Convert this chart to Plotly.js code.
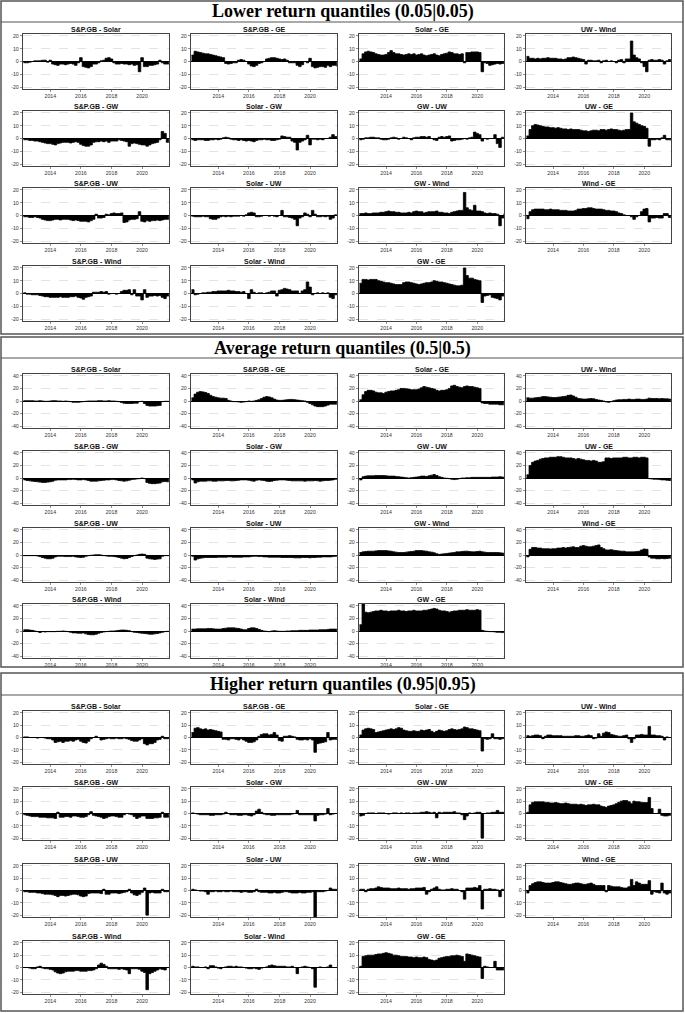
<!DOCTYPE html>
<html>
<head>
<meta charset="utf-8">
<script src="https://cdn.plot.ly/plotly-3.0.1.min.js"></script>
<style>
	html, body { margin: 0; padding: 0; background: #fff; }
	#chart { width: 685px; height: 1013px; }
</style>
</head>
<body>
<div id="chart"></div>
<script>
// sampling dates, every two months
const dates = [
	"2012-04", "2012-06", "2012-08", "2012-10", "2012-12",
	"2013-02", "2013-04", "2013-06", "2013-08", "2013-10", "2013-12",
	"2014-02", "2014-04", "2014-06", "2014-08", "2014-10", "2014-12",
	"2015-02", "2015-04", "2015-06", "2015-08", "2015-10", "2015-12",
	"2016-02", "2016-04", "2016-06", "2016-08", "2016-10", "2016-12",
	"2017-02", "2017-04", "2017-06", "2017-08", "2017-10", "2017-12",
	"2018-02", "2018-04", "2018-06", "2018-08", "2018-10", "2018-12",
	"2019-02", "2019-04", "2019-06", "2019-08", "2019-10", "2019-12",
	"2020-02", "2020-04", "2020-06", "2020-08", "2020-10", "2020-12",
	"2021-02", "2021-04", "2021-06", "2021-08", "2021-10"
];

const pairs = [
	"S&P.GB - Solar", "S&P.GB - GE", "Solar - GE", "UW - Wind",
	"S&P.GB - GW", "Solar - GW", "GW - UW", "UW - GE",
	"S&P.GB - UW", "Solar - UW", "GW - Wind", "Wind - GE",
	"S&P.GB - Wind", "Solar - Wind", "GW - GE"
];

const yearTicks = ["2014-01-01", "2016-01-01", "2018-01-01", "2020-01-01"];
const yearLabels = ["2014", "2016", "2018", "2020"];

// ---- lower return quantiles (0.05|0.05)
const loSpSolar = [-1, -1, -0.5, 0, 0.5,
	0.5, 0.5, 1, 1, -0.5, 1,
	-2, -2.5, -3, -2, -2, -2.5,
	-2, -1.5, -2, -3, -1, 3,
	-4, -4.5, -5, -4, -2, -2,
	-1, 0.5, 1, 2.5, 3, 2,
	-1, -2, -2, -1.5, -2, -2,
	-2.5, -2, -3, -2.5, -8, 3,
	-4, -4, -3, -3, -2.5, -2,
	1, -1, -2, -2, -2];
const loSpGe = [5, 8, 7.5, 7, 6.5,
	6, 6, 5.5, 5, 4.5, 4,
	3.5, 3, -1.5, -2, -1.5, -1,
	-1, 1, 1.5, 1, 0, -2,
	-3.5, -4, -3, -1.5, -1, 0,
	2, 2.5, 3, 3, 2.5, 2,
	1.5, 2, 1, -1, -1, -1,
	-3, -4, -2.5, 0, -1, 2.5,
	-4, -5, -4.5, -4, -4, -4.5,
	-3, -4, -3, -3, -4];
const loSolarGe = [2, 6, 7.5, 8, 7.5,
	7, 6, 5.5, 5, 5, 5.5,
	7, 8.5, 7, 6, 6, 5.5,
	5, 5.5, 6, 5.5, 6, 5,
	5.5, 6, 5, 4.5, 5, 5.5,
	6, 5, 4.5, 5.5, 6, 6.5,
	7.5, 7, 6, 6, 5.5, 6,
	-1, 7, 7, 7.5, 7.5, 7.5,
	7, -8, -1, -1.5, -3, -2.5,
	-2, -1.5, -2, -1.5, -2];
const loUwWind = [4, 2.5, 2.5, 2, 2.5,
	2, 2.5, 2.5, 3, 2.5, 2.5,
	2.5, 2, 2, 1.5, 2, 3,
	3, 3.5, 3, 2.5, 2, 1.5,
	-2, 1, 1, 0.5, 0.5, 1,
	-1, 0.5, 1, 0, 0.5, 0,
	-1, 1, 1.5, -1, 2, 2,
	16, 5, 3, 2, -1, -4,
	-8, 1, 1.5, 1, 1, 1.5,
	1, -2, 0.5, 1.5, 1.5];
const loSpGw = [-1, -1, -1.5, -1.5, -2,
	-2, -2.5, -3, -3.5, -4, -4,
	-4.5, -5, -4, -3.5, -3, -3,
	-3, -3.5, -3, -2.5, -3, -4.5,
	-5.5, -6, -6, -5, -3, -2.5,
	-2.5, -2, -2.5, -2, -3, -2,
	-2, -2, -1, -1.5, -2, -2.5,
	-6, -4, -3.5, -4, -4.5, -5,
	-5, -6, -5, -4, -3.5, -3,
	-1, 5.5, 4, -3, -3];
const loSolarGw = [-1, -1.5, -1, -1, -1,
	-1.5, -1.5, -1, -1, -0.5, -1,
	-0.5, 0.5, 1, 0.5, -0.5, -1,
	-1, -1.5, -1, -1.5, -2, -1.5,
	-2, -2.5, -1.5, -1, -1, -0.5,
	-1, -1, -1.5, -1.5, -1, -0.5,
	2, 1.5, 1, 1, -2, -3,
	-9, -3, -2, -1, 2.5, -5,
	-0.5, -0.5, -1, -0.5, -1, 0,
	0, 1, 3, 1.5, 0.5];
const loGwUw = [-1, -0.5, 0.5, 0.5, 1,
	1, 0.5, 0.5, -0.5, -1, -1,
	-0.5, 0.5, 1, 0.5, -0.5, 0,
	1, 0.5, 0, -1, 0.5, 1,
	1, 1.5, 1.5, 1, 1.5, 0,
	-1, -1.5, 1, 1.5, 1, 1.5,
	2, -2, -1.5, -1, -1, -0.5,
	0, -0.5, 0.5, 1, 5, 4,
	3, -2, 0, -0.5, 0, 0,
	3, -4, -7, 1, 1];
const loUwGe = [2, 7, 10, 11, 10.5,
	10, 9.5, 9, 9, 8.5, 8.5,
	8, 8.5, 8, 7.5, 7.5, 7,
	7.5, 7, 7, 7, 6.5, 6,
	6, 5.5, 6, 6.5, 6.5, 6,
	7, 7, 6.5, 7, 7.5, 7,
	7, 6.5, 6, 6.5, 7, 7,
	20, 13, 12, 11, 10, 9.5,
	8, -6, -1, -1, -0.5, -1,
	0.5, 2.5, -1, -1, -1.5];
const loSpUw = [-1, -1, -1.5, -1.5, -1,
	-1.5, -2, -3, -3.5, -4, -4,
	-3.5, -3, -3, -3.5, -3, -3,
	-3, -3.5, -4, -3.5, -4, -4.5,
	-4.5, -4.5, -5, -4, -3, 1,
	-2, -2, -1.5, 1, 0.5, 1.5,
	2, 1.5, 1.5, 2, -5.5, -5,
	-3.5, -3, -3, -2.5, 3, -4.5,
	-5, -4, -4.5, -4, -4, -3.5,
	-4, -3.5, -3, -3, -3];
const loSolarUw = [-0.5, -1, -1, -1, -0.5,
	-1, -1, -2.5, -3, -3, -2,
	-1, -0.5, -1, -0.5, -1, -0.5,
	-0.5, -0.5, 0, -0.5, 0.5, 2,
	2.5, 2, -1, -1, -0.5, 0,
	0, -0.5, 0, -0.5, -1, 0,
	4, -1, -1, -1.5, -2, -3,
	-8, -2, -1, 2, 1, -1,
	4, 1, -1, -1, -0.5, -1,
	-0.5, -3, -2, 0.5, 0];
const loGwWind = [1.5, 1.5, 2, 1.5, 1.5,
	2, 2, 2, 2.5, 2.5, 3,
	3.5, 3, 3, 2.5, 2.5, 2,
	2, 2, 2.5, 2, 3, 3.5,
	3, 3, 2, 2.5, 3, 3,
	3, 3.5, 2.5, 2.5, 2, 2,
	1.5, 2.5, 3, 3.5, 4, 4,
	18, 6, 4.5, 4, 8, 3.5,
	3.5, 3, 2, 1.5, 2, 1.5,
	1.5, 1, -8, -2, 1.5];
const loWindGe = [-2.5, 3, 4.5, 5, 5,
	5, 5, 4.5, 4.5, 5, 4.5,
	4.5, 4.5, 4, 4, 4, 3.5,
	3.5, 3.5, 4, 5, 5, 5.5,
	5.5, 6, 6, 5.5, 5, 5,
	5, 4.5, 4, 4, 3.5, 3.5,
	3, 2, 1.5, 0.5, 0, 0,
	-1, -3, -1, 0, 3, 5,
	5.5, -5, -2, -2, -1.5, -2,
	-2, 1.5, 1.5, -1.5, -2];
const loSpWind = [0.5, -0.5, -0.5, -1, -1,
	-1, -1.5, -2, -2.5, -2.5, -3,
	-3, -3, -3, -2.5, -3, -3,
	-3, -2.5, -2.5, -2, -3, -3.5,
	-4.5, -3, -2.5, -2, 1, 1,
	1, 1.5, 1, 1.5, -0.5, 0,
	0, -0.5, 0, 1.5, 2.5, 2.5,
	3, -1, 3, -2, -2, -5,
	3, -3, -2, -2, -1.5, -2,
	-1.5, -3, -4, -2, -2];
const loSolarWind = [3, -1, -0.5, 0, 0.5,
	0.5, 1, 1, 1.5, 1.5, 2,
	2, 2, 2, 2.5, 2, 2,
	1.5, 1.5, 1, 1.5, 0, -4,
	3, 1, 0, 0.5, 0.5, 0,
	0.5, 1, 2, 2, -2, 2.5,
	3, 4, 3.5, 3, 2, 2,
	2, 0, 2, 3, 9, 5,
	-1, 0, 0.5, 0, 0.5, 0,
	0.5, -3, -4, -1, 0];
const loGwGe = [8, 11, 11, 10.5, 11,
	11, 11, 10, 9.5, 9, 8.5,
	8.5, 8, 7.5, 7, 7, 7,
	8.5, 9, 9, 8.5, 8, 7.5,
	7, 7.5, 8, 8.5, 8.5, 9,
	10, 9.5, 9, 9, 8.5, 8,
	7.5, 7, 6.5, 6, 6, 6.5,
	20, 14, 12, 12, 11, 10.5,
	10, -7, -2, -1.5, -1, -3,
	-3.5, -4, -5, -2, -1];

// ---- average return quantiles (0.5|0.5)
const avSpSolar = [0.5, 0.5, 0.5, 0.5, 0,
	0, 0.5, 0, -0.5, -0.5, 0,
	0.5, 0.5, 0, 0, -0.5, 0,
	-0.5, -1, -2, -2, -2, -1.5,
	-1, -0.5, 0, 0, 0, 0,
	0.5, 0.5, 0, 0, 0.5, 0,
	0, -0.5, -1, -2.5, -3.5, -4,
	-4, -4, -3.5, -3.5, -1, -0.5,
	-4, -7, -8, -8, -8, -7.5,
	-7, -1, -0.5, -0.5, -0.5];
const avSpGe = [5, 11, 14, 15, 14.5,
	13.5, 12, 9, 7, 6, 5,
	4.5, 4.5, 4, 1, 0, -1,
	-1, -1.5, -2, -1.5, -1, 0,
	-0.5, 0, 1, 2, 4, 6,
	7, 6.5, 5, 3, 1.5, 1,
	1, 1.5, 2, 2.5, 2.5, 2,
	1.5, 1, 0.5, 0, -2, -4,
	-6, -8, -9, -9, -9, -8,
	-6.5, -5, -5, -5, -5];
const avSolarGe = [2, 10, 15, 17, 17,
	16, 14, 13, 13, 12, 14,
	15, 16, 16, 17, 18, 20,
	20, 19.5, 19, 18, 18, 18,
	19, 21, 23, 22, 21, 20,
	19, 17, 16, 17, 17, 18,
	20, 24, 25, 23, 22, 21,
	23, 24, 23, 23, 22, 21,
	20, -3, -4, -4, -5, -5,
	-5, -5, -6, -6, -6];
const avUwWind = [5, 4.5, 4.5, 5, 5.5,
	6, 7, 7, 6.5, 6, 5.5,
	5.5, 6, 6.5, 7, 7.5, 9,
	9.5, 8, 6, 4, 3.5, 3,
	3, 3.5, 4, 3.5, 2.5, 1.5,
	1, 0, -1.5, -2, -1, 0.5,
	1.5, 2, 2, 2.5, 2.5, 3,
	2.5, 2.5, 3, 3, 2.5, 2.5,
	3, 4.5, 4, 4, 4, 3.5,
	4, 3.5, 3.5, 3, 3];
const avSpGw = [-3, -4, -4.5, -5, -5.5,
	-6, -6.5, -7, -7, -6.5, -6,
	-5, -3.5, -3, -3, -3, -3,
	-2.5, -2.5, -2, -2.5, -3, -3,
	-2.5, -3, -4, -5, -5, -5,
	-4.5, -4, -3.5, -3, -3, -2.5,
	-2.5, -3, -4, -4.5, -5, -4.5,
	-3.5, -2.5, -2, -1.5, -1, 0,
	-1, -7, -8.5, -9, -9, -8.5,
	-8, -6, -5.5, -6, -6];
const avSolarGw = [-3, -8, -6, -5, -5,
	-5, -4.5, -4.5, -5, -5, -4.5,
	-4.5, -4.5, -4, -4, -4.5, -4.5,
	-4, -3.5, -3, -3, -3, -3.5,
	-4.5, -5, -3.5, -3, -3.5, -4,
	-5, -5.5, -5, -4, -3.5, -3,
	-3, -3, -3.5, -4, -4.5, -4.5,
	-4.5, -4.5, -4.5, -5, -4.5, -4.5,
	-4.5, -4, -4.5, -5, -4.5, -4,
	-4, -3.5, -3, -2, -1.5];
const avGwUw = [-3, 2, 3, 3.5, 3.5,
	3.5, 4, 4, 4, 4, 3.5,
	3, 3, 3, 2.5, 2, 1.5,
	1, 0.5, 0, 0.5, 1, 1.5,
	2, 3, 3, 2.5, 3.5, 4.5,
	5.5, 4, 2, 1, 0, -0.5,
	-1, -2, -2.5, -2, -1, 0,
	0, 0.5, 0.5, 1, 1, 1,
	1, 1, 1, 1, 1, 1.5,
	1.5, 1.5, 2, 1.5, 1.5];
const avUwGe = [5, 20, 25, 27, 28,
	30, 31, 32, 32, 33, 33,
	33, 34, 34, 33, 32, 32,
	32, 31, 30, 31, 30, 29,
	28, 28, 27, 28, 27, 25,
	25, 26, 32, 32, 31, 32,
	32, 32, 32, 33, 33, 32,
	32, 33, 33, 32, 33, 33,
	32, -1, -1.5, -2, -2, -2.5,
	-3, -3, -3.5, -4, -4];
const avSpUw = [-1, -1, -1, -1, -1,
	-1.5, -2.5, -4, -5, -6, -6,
	-5, -3, -2, -2, -2, -2.5,
	-2.5, -2.5, -2, -3, -3.5, -4,
	-3.5, -2, -1, -0.5, 0, 0.5,
	0.5, 0, -1, -1.5, -2, -2,
	-2.5, -3, -4, -5, -6, -5.5,
	-4, -2.5, -1, 0, 1, 1.5,
	1, -5, -6, -6.5, -7, -6.5,
	-6, -2, -1, -1, -1];
const avSolarUw = [-2, -8, -6, -5, -4.5,
	-4, -4, -4, -4, -4, -3.5,
	-3.5, -3.5, -3.5, -3, -3, -3.5,
	-3.5, -3.5, -3.5, -3, -3, -3,
	-2.5, -2, -2, -2.5, -2.5, -3,
	-3, -3.5, -3.5, -3.5, -3.5, -3.5,
	-4, -4, -4, -4, -4, -4.5,
	-4.5, -4.5, -4, -4, -4, -4.5,
	-4, -4, -3.5, -3.5, -3, -3,
	-3, -3, -2.5, -2, -2];
const avGwWind = [4, 5, 5.5, 6, 6,
	6, 6.5, 7, 7, 7, 7,
	6.5, 6, 5, 4.5, 4, 4,
	4, 4.5, 5, 5.5, 6, 7,
	7, 7, 6.5, 6, 5, 4.5,
	3.5, 2, 1, 1.5, 2, 2.5,
	3, 3.5, 4, 5, 5, 5.5,
	6, 6, 5.5, 5, 5, 5.5,
	6, 5, 4.5, 4, 4, 4,
	4, 4, 3.5, 3, 2];
const avWindGe = [-3, 9, 12, 12, 11,
	11, 10, 10, 10, 9.5, 10,
	10, 11, 11, 12, 11, 12,
	12.5, 13, 12, 12, 14, 15,
	14, 13, 13, 14, 15, 16,
	12, 10, 8, 8, 8.5, 7.5,
	7, 6.5, 6, 6, 5, 5,
	5, 5, 5.5, 6, 8, 9.5,
	9, -3, -5, -5, -6, -6,
	-5.5, -6, -5.5, -5, -5];
const avSpWind = [2, 2, 1.5, 1, 0,
	-1, -2.5, -1, -1.5, -1, -1,
	-1, -1, -0.5, -0.5, 0, -0.5,
	-1, -2, -3, -3, -3.5, -3.5,
	-3, -4.5, -5.5, -6, -6, -5,
	-3.5, -2.5, -1.5, -1, -0.5, 0,
	0, 0.5, 1, 1.5, 1.5, 1,
	0.5, -1, -2, -2.5, -3, -3.5,
	-4, -4.5, -5, -5, -4.5, -4,
	-3, -2, -1, -0.5, -0.5];
const avSolarWind = [3, 3, 3.5, 3.5, 3.5,
	3.5, 4, 4, 3.5, 3, 3,
	3, 4, 4.5, 5, 5, 5,
	4.5, 4, 3, 2, 2, 4,
	5, 5, 4, 2.5, 1, 0,
	-0.5, -1, 0, 0.5, 0, -0.5,
	-0.5, -0.5, 0, 0, 0.5, 0.5,
	0.5, 1, 1, 1, 1, 1.5,
	1.5, 1.5, 1.5, 2, 2, 2,
	2.5, 3, 3, 3, 3];
const avGwGe = [10, 45, 30, 29, 30,
	31, 32, 32, 33, 32, 32,
	31, 32, 32, 32, 33, 32,
	32, 31, 32, 32, 33, 32,
	32, 32, 33, 33, 34, 35,
	36, 35, 33, 32, 32, 31,
	30, 31, 32, 32, 33, 33,
	33, 34, 33, 33, 33, 34,
	33, 1, 0, -0.5, -1, -1,
	-1.5, -2, -2, -2.5, -3];

// ---- higher return quantiles (0.95|0.95)
const hiSpSolar = [0.5, 0.5, 0, 0, 0,
	-0.5, 0, 0, -0.5, -1, -1,
	-2, -4, -3.5, -3, -4, -3,
	-3, -2.5, -3, -2, -1.5, -3,
	-4, -4.5, -3, -1, 0, 1,
	0, -2, -1.5, -1, -0.5, -1,
	-1, -0.5, -1, -1, -0.5, -1,
	-1.5, -2.5, -3, -3, -2, -1,
	-5, -6, -5, -5, -4, -2,
	-1.5, 1, -1, -1, -1];
const hiSpGe = [4, 7.5, 8, 7, 6.5,
	7, 6, 6.5, 6, 5.5, 5,
	4.5, -1.5, -1.5, -2, -1, -1,
	-1.5, -2, -1, -2, -3, -4,
	-4, -3.5, -2, 1, 2.5, 3,
	3, 2, 2.5, 4, 2, -2.5,
	-3, 1, 1, 1.5, 1, 0.5,
	-1.5, -2, -2, -1.5, -2, -1,
	-2, -12, -5, -4.5, -4, -3.5,
	4, -2, -1.5, -1.5, -2];
const hiSolarGe = [2, 6, 7, 7.5, 7,
	6.5, 4, 4.5, 5, 5.5, 6,
	6.5, 7, 6.5, 7, 8, 7.5,
	6, 5.5, 5, 5, 5.5, 5,
	5, 6, 5.5, 6, 6.5, 5,
	4, 5, 6, 5.5, 5, 5.5,
	6.5, 7, 6.5, 6, 6.5, 7,
	8.5, 8, 7, 7, 6.5, 6,
	5.5, -11, -1, -1.5, -1, 3,
	-1, -1, -1.5, -1, -1];
const hiUwWind = [1.5, 1, 1.5, 2, 2,
	1.5, -1, 1, 2, 2, 1.5,
	1.5, 1.5, 1.5, 1, 1, 1,
	1, 1, 1.5, 1.5, 1, 1,
	1.5, 2, 1.5, -1, -0.5, 3,
	1, 3.5, 4.5, 4, 2.5, 2,
	1.5, 1, 1, 1.5, 2, -1,
	-4, -1, 2, 2, 2.5, 2,
	2, 9, 2, 2, 1.5, 1.5,
	1, -2, 0.5, 0, 0];
const hiSpGw = [-1, -1.5, -2, -2.5, -2.5,
	-2.5, -3, -3, -3, -3.5, -3.5,
	-3.5, -4, 1, -3, -3, -2.5,
	-2.5, -3, -2, -2, -2.5, -3,
	-3, -2.5, -1, 1.5, -1.5, -2,
	-2.5, -3, -4, -3.5, -2.5, -2,
	-2, -2.5, -3, -3, -1, 0,
	-0.5, -1, -2.5, -4, -3, -2,
	-2, -4, -4, -4, -3.5, -3.5,
	-3, 1, -3, -3, -3];
const hiSolarGw = [0.5, 0, -0.5, -1, -1,
	-1, -1, -1.5, -1.5, -1, -1,
	-1, -0.5, 1, 0, -1, -1,
	-1, -1.5, -1.5, -1, -1, -1.5,
	-2, -1, 2, 3.5, 1, -0.5,
	-1, -1, -1.5, -1.5, -1, -1,
	-1, -1, -1, -1, -0.5, 0,
	2.5, -1, -1, -1, -1, -1,
	-1, -6, -1.5, -1, -1, -0.5,
	4, -1, -0.5, 0, 0];
const hiGwUw = [-2, -1.5, 0, 0.5, 0.5,
	0.5, 0, 0.5, 0.5, 0.5, 0,
	-0.5, 0, 0.5, 0.5, 0, 0.5,
	0, 0.5, 0.5, 0, 0.5, 0.5,
	0.5, 1, 1, 1.5, 1, 0.5,
	1, -3.5, 1, 0.5, 1, 1,
	1, 1, 1.5, 0.5, 0.5, -1,
	-5, -2, 0.5, 0, 0.5, 1,
	1, -20, 0, 0.5, 0.5, 1,
	1, 2.5, 1, 1, 0.5];
const hiUwGe = [1, 7, 9, 9.5, 9.5,
	9.5, 9.5, 9, 9, 8.5, 8.5,
	9, 8.5, 8, 8, 8.5, 8,
	7.5, 7.5, 7.5, 7, 7.5, 7,
	6.5, 7, 7, 7.5, 7, 7,
	6, 5.5, 5, 6, 6.5, 7,
	8, 9, 10, 10.5, 10.5, 9.5,
	8, 10, 9.5, 9.5, 9, 9,
	9, 13, 4, 0, 0, 3.5,
	-1.5, -2, -2, -1.5, -1.5];
const hiSpUw = [-1, -1, -1.5, -1.5, -1.5,
	-2, -2, -2.5, -3, -3, -3,
	-3.5, -4, -5, -4, -4, -4.5,
	-4, -3.5, -3, -3, -3.5, -4.5,
	-5, -4.5, -2.5, -2, -2, -2,
	-2, -2.5, 1, -3, -3, -2,
	-2, -2, -2.5, -2, -1.5, -1,
	1, -2, -3.5, -4, -3, -1.5,
	2, -20, -2, -1.5, -2, -2,
	-2, 1, -1, -1, -1];
const hiSolarUw = [1, 0.5, 0, -0.5, -0.5,
	-1, -3, -1, -1, -0.5, -1,
	-1, -0.5, -1, -1, -0.5, -1,
	-1, -1, -1.5, -1, -1, -1.5,
	-1.5, -1, 1, -1, -1.5, -1.5,
	-1.5, -2, -2, -1.5, -2, -2,
	-1.5, -1, -1, -1.5, -2, -2,
	-2, -1.5, -2, -2, -1.5, -1.5,
	-1, -22, -1, -1, -1, -0.5,
	0, 2, 1, 1, 0.5];
const hiGwWind = [1, 1, -1, 1, 1.5,
	1.5, 2, 3, 2.5, 2, 2,
	2, 1.5, 1.5, 1.5, 2, 1.5,
	1.5, 1.5, 1, 1.5, 1.5, 2,
	2, 2, 2.5, -3, -1, 1,
	2, 3, 1, 0.5, 0.5, 1,
	1, 1.5, 1, 1, 0, -1,
	-7, 2, 2, 2, 2.5, 2,
	4, -15, 1, 1, 1.5, 1,
	1, 0.5, -5, 1, 1];
const hiWindGe = [-2, 4, 5.5, 6.5, 7,
	7, 6.5, 6, 6, 6, 6.5,
	7, 7, 6.5, 6, 5.5, 5,
	5, 5.5, 6, 6, 5.5, 5,
	5, 5.5, 6, 5, 4, 4,
	4, 4, -1, 4, 3.5, 3,
	3, 3, 2.5, 2, 2, 3,
	9, 4, 7, 6, 5, 5,
	5, 8, -3, -1, -1.5, -2,
	6, -2, -3, -2, -1];
const hiSpWind = [0, 0, -0.5, -1, -1,
	0.5, 1, -0.5, -1, -1, -1.5,
	-2, -3.5, -4.5, -5, -4.5, -3.5,
	-3, -3, -3, -2.5, -2.5, -3,
	-3, -3, -2.5, -2.5, -2, -1,
	2, 3.5, 2.5, 1, -1, -1,
	-1, -1, -1.5, -1, -1.5, -2,
	-5, -1, -1, -1, -1.5, -3,
	-4, -18, -5, -4, -3, -2,
	-1, -1.5, -2, 0, 0];
const hiSolarWind = [1, 0.5, 0.5, 0, 0,
	0.5, -1, 1.5, 1.5, 0.5, -0.5,
	-1, 0, 0.5, 1, 1, 0.5,
	1, 0.5, 0.5, 0, -0.5, -1,
	-1, -0.5, -1, -1.5, -0.5, 0,
	0.5, 1.5, 2, 1.5, 1, 1,
	1, 1, 0.5, 0.5, 1, 0,
	-5, 0, 0.5, 1, 0.5, 0,
	-1, -16, 0, 0.5, 0, 0,
	0.5, 2, 0, 0, 0.5];
const hiGwGe = [1, 9, 9.5, 10, 10,
	10, 10.5, 11, 11, 11.5, 12,
	11.5, 11, 10, 10, 9.5, 9,
	9, 9, 8.5, 8.5, 8, 8.5,
	8, 8, 8.5, 8, 6.5, 6,
	5.5, 6, 7.5, 8, 8.5, 9,
	9, 9.5, 9.5, 10, 9.5, 9,
	5, 11, 10.5, 10, 9.5, 9,
	8.5, -9, 1, 0.5, 0, 0,
	5, -2, -2, -2, -1.5];

const lower = [loSpSolar, loSpGe, loSolarGe, loUwWind, loSpGw, loSolarGw, loGwUw, loUwGe,
	loSpUw, loSolarUw, loGwWind, loWindGe, loSpWind, loSolarWind, loGwGe];
const average = [avSpSolar, avSpGe, avSolarGe, avUwWind, avSpGw, avSolarGw, avGwUw, avUwGe,
	avSpUw, avSolarUw, avGwWind, avWindGe, avSpWind, avSolarWind, avGwGe];
const higher = [hiSpSolar, hiSpGe, hiSolarGe, hiUwWind, hiSpGw, hiSolarGw, hiGwUw, hiUwGe,
	hiSpUw, hiSolarUw, hiGwWind, hiWindGe, hiSpWind, hiSolarWind, hiGwGe];

// page geometry, in pixels
const W = 685, H = 1013;
const cols = [[23, 169], [191, 337], [359, 504], [526, 671]];
const sections = [
	{ title: "Lower return quantiles (0.05|0.05)", series: lower, rows: [34, 111, 188, 266], h: 55, lim: 21.5, ticks: [-20, -10, 0, 10, 20], frame: [1, 334], band: 22 },
	{ title: "Average return quantiles (0.5|0.5)", series: average, rows: [374, 451, 528, 604], h: 54, lim: 43, ticks: [-40, -20, 0, 20, 40], frame: [337, 667], band: 358 },
	{ title: "Higher return quantiles (0.95|0.95)", series: higher, rows: [711, 787, 864, 941], h: 53, lim: 21.5, ticks: [-20, -10, 0, 10, 20], frame: [673, 1011], band: 695 }
];

const px = x => x / W;
const py = y => 1 - y / H;

const traces = [];
const annotations = [];
const shapes = [];
const layout = {
	width: W,
	height: H,
	margin: { l: 0, r: 0, t: 0, b: 0 },
	paper_bgcolor: "#fff",
	plot_bgcolor: "#fff",
	showlegend: false,
	font: { family: "Liberation Sans, Arial, sans-serif", color: "#333" }
};

sections.forEach((sec, s) => {
	shapes.push({ type: "rect", xref: "paper", yref: "paper", x0: px(1), x1: px(683), y0: py(sec.frame[1]), y1: py(sec.frame[0]), line: { color: "#555", width: 1.5 } });
	shapes.push({ type: "line", xref: "paper", yref: "paper", x0: px(1), x1: px(683), y0: py(sec.band), y1: py(sec.band), line: { color: "#555", width: 1.2 } });
	annotations.push({
		text: "<b>" + sec.title + "</b>", xref: "paper", yref: "paper",
		x: 0.5, y: py((sec.frame[0] + sec.band) / 2 + 0.5), showarrow: false,
		xanchor: "center", yanchor: "middle",
		font: { family: "Liberation Serif, Times New Roman, serif", size: 18, color: "#000" }
	});

	sec.series.forEach((vals, i) => {
		if (vals.length !== dates.length) console.error(sec.title, pairs[i], vals.length);
		const n = s * 15 + i + 1;
		const suf = n === 1 ? "" : String(n);
		const [x0, x1] = cols[i % 4];
		const top = sec.rows[Math.floor(i / 4)];

		traces.push({
			x: dates,
			y: vals,
			xaxis: "x" + suf,
			yaxis: "y" + suf,
			type: "scatter",
			mode: "lines",
			line: { shape: "hv", color: "#000", width: 0.8 },
			fill: "tozeroy",
			fillcolor: "#000",
			hoverinfo: "skip"
		});

		layout["xaxis" + suf] = {
			domain: [px(x0), px(x1)],
			anchor: "y" + suf,
			type: "date",
			range: ["2012-03-20", "2021-10-05"],
			tickvals: yearTicks,
			ticktext: yearLabels,
			ticks: "outside", ticklen: 2, tickwidth: 0.6, tickcolor: "#444",
			tickfont: { size: 5.2, color: "#333" },
			showline: true, mirror: true, linecolor: "#444", linewidth: 1.2,
			showgrid: false, zeroline: false, fixedrange: true
		};
		layout["yaxis" + suf] = {
			domain: [py(top + sec.h), py(top)],
			anchor: "x" + suf,
			range: [-sec.lim, sec.lim],
			tickvals: sec.ticks,
			ticktext: sec.ticks.map(String),
			ticks: "outside", ticklen: 2, tickwidth: 0.6, tickcolor: "#444",
			tickfont: { size: 5.2, color: "#333" },
			showline: true, mirror: true, linecolor: "#444", linewidth: 1.2,
			showgrid: true, gridcolor: "#c8c8c8", gridwidth: 0.5, griddash: "dash",
			zeroline: true, zerolinecolor: "#000", zerolinewidth: 1,
			fixedrange: true
		};

		annotations.push({
			text: "<b>" + pairs[i] + "</b>", xref: "paper", yref: "paper",
			x: px((x0 + x1) / 2), y: py(top - 4.5), showarrow: false,
			xanchor: "center", yanchor: "middle",
			font: { family: "Liberation Sans, Arial, sans-serif", size: 7, color: "#111" }
		});
	});
});

layout.annotations = annotations;
layout.shapes = shapes;

Plotly.newPlot("chart", traces, layout, { responsive: false, displayModeBar: false, staticPlot: true });
</script>
</body>
</html>
